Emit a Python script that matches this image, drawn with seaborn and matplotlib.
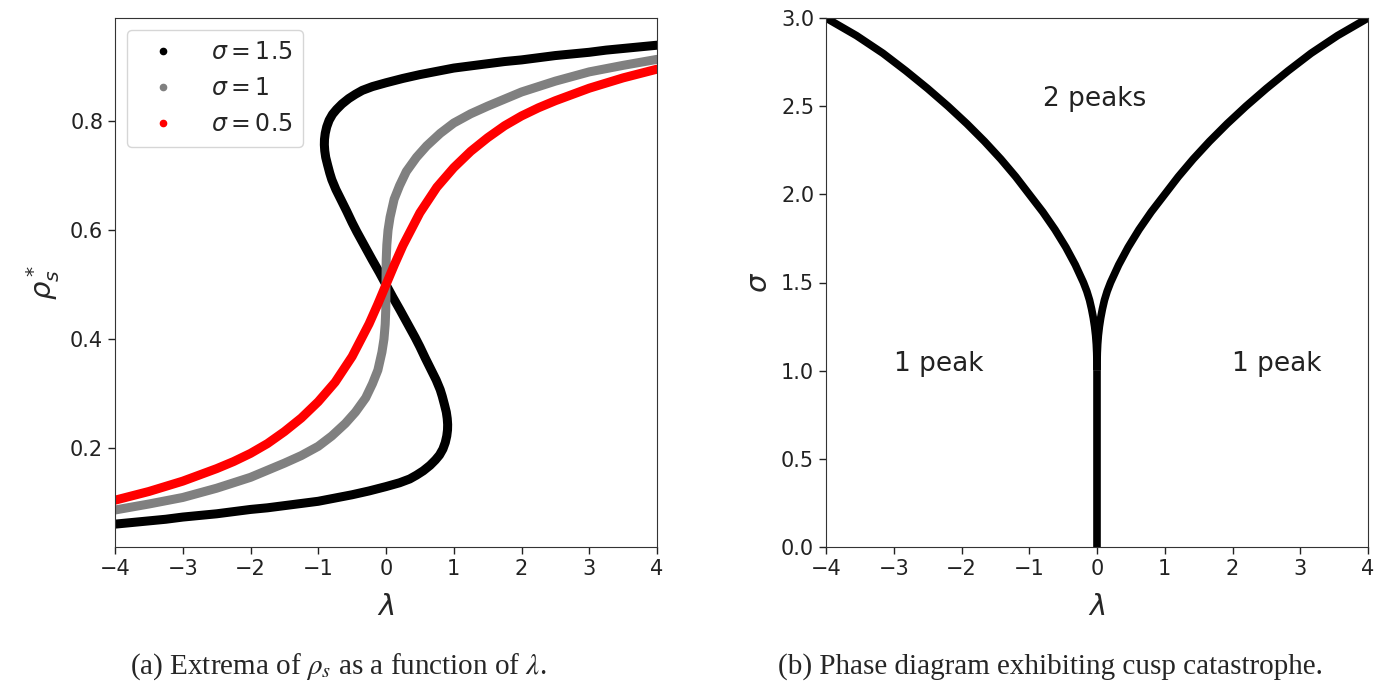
import matplotlib
matplotlib.use("Agg")
import matplotlib.pyplot as plt
import seaborn as sns
import pandas as pd
from matplotlib.lines import Line2D

# ---------------- data ----------------
# Panel (a): extrema rho_s* vs lambda, points ordered along each curve
lam_s15 = [-4.0, -3.75, -3.5, -3.25, -3.0, -2.75, -2.5, -2.25, -2.0, -1.75, -1.5, -1.25, -1.0, -0.75,
           -0.5, -0.25, 0.0, 0.2, 0.35, 0.45, 0.55, 0.65, 0.73, 0.79, 0.84, 0.875, 0.897, 0.908,
           0.910, 0.904, 0.89, 0.862, 0.83, 0.80, 0.74, 0.66, 0.58, 0.50, 0.43, 0.355, 0.28,
           0.205, 0.10, 0.0,
           -0.10, -0.205, -0.28, -0.355, -0.43, -0.50, -0.58, -0.66, -0.74, -0.80, -0.83, -0.862,
           -0.89, -0.904, -0.910, -0.908, -0.897, -0.875, -0.84, -0.79, -0.73, -0.65, -0.55, -0.45,
           -0.35, -0.2, 0.0, 0.25, 0.5, 0.75, 1.0, 1.25, 1.5, 1.75, 2.0, 2.25, 2.5, 2.75, 3.0,
           3.25, 3.5, 3.75, 4.0]
rho_s15 = [0.060, 0.063, 0.066, 0.069, 0.073, 0.076, 0.079, 0.083, 0.087, 0.090, 0.094, 0.098, 0.102, 0.108,
           0.114, 0.121, 0.129, 0.136, 0.143, 0.150, 0.158, 0.168, 0.178, 0.187, 0.198, 0.210, 0.222, 0.233,
           0.243, 0.254, 0.266, 0.280, 0.295, 0.307, 0.325, 0.345, 0.365, 0.386, 0.403, 0.420, 0.437,
           0.454, 0.477, 0.500,
           0.523, 0.546, 0.563, 0.580, 0.597, 0.614, 0.635, 0.655, 0.675, 0.693, 0.705, 0.720,
           0.734, 0.746, 0.757, 0.767, 0.778, 0.790, 0.802, 0.813, 0.822, 0.832, 0.842, 0.850,
           0.857, 0.864, 0.871, 0.879, 0.886, 0.892, 0.898, 0.902, 0.906, 0.910, 0.913, 0.917, 0.921, 0.924,
           0.927, 0.931, 0.934, 0.937, 0.940]

lam_s10 = [-4.0, -3.5, -3.0, -2.5, -2.0, -1.5, -1.25, -1.0, -0.8, -0.6, -0.45, -0.3, -0.2, -0.12,
           -0.06, -0.03, -0.012, -0.003, 0.0,
           0.003, 0.012, 0.03, 0.06, 0.12, 0.2, 0.3, 0.45, 0.6, 0.8, 1.0, 1.25, 1.5, 2.0, 2.5,
           3.0, 3.5, 4.0]
rho_s10 = [0.086, 0.097, 0.109, 0.126, 0.146, 0.172, 0.186, 0.203, 0.222, 0.245, 0.266, 0.292, 0.318, 0.343,
           0.376, 0.400, 0.427, 0.455, 0.500,
           0.545, 0.573, 0.600, 0.624, 0.657, 0.682, 0.708, 0.734, 0.755, 0.778, 0.797, 0.814, 0.828, 0.854,
           0.874, 0.891, 0.903, 0.914]

lam_s05 = [-4.0, -3.5, -3.0, -2.5, -2.25, -2.0, -1.75, -1.5, -1.25, -1.0, -0.75, -0.5, -0.25, -0.125, 0.0,
           0.125, 0.25, 0.5, 0.75, 1.0, 1.25, 1.5, 1.75, 2.0, 2.25, 2.5, 3.0, 3.5, 4.0]
rho_s05 = [0.104, 0.120, 0.139, 0.162, 0.175, 0.190, 0.208, 0.230, 0.255, 0.285, 0.321, 0.368, 0.428, 0.463, 0.500,
           0.537, 0.572, 0.632, 0.679, 0.715, 0.745, 0.770, 0.792, 0.810, 0.825, 0.838, 0.861, 0.880, 0.896]

series_labels = [r"$\sigma = 1.5$", r"$\sigma = 1$", r"$\sigma = 0.5$"]
series_colors = ["black", "gray", "red"]

# Panel (b): phase boundary (cusp)
stem_lam = [0.0, 0.0]
stem_sigma = [0.0, 1.0]
branch_sigma = [1.0, 1.05, 1.1, 1.15, 1.2, 1.25, 1.3, 1.35, 1.4, 1.45, 1.5, 1.6, 1.7, 1.8, 1.9,
                2.0, 2.1, 2.2, 2.3, 2.4, 2.5, 2.6, 2.7, 2.8, 2.9, 3.0]
branch_right_lam = [0.0, 0.001, 0.004, 0.01, 0.02, 0.035, 0.055, 0.08, 0.11, 0.15, 0.2, 0.32, 0.46, 0.62, 0.8,
                    1.0, 1.2, 1.42, 1.66, 1.92, 2.2, 2.5, 2.82, 3.16, 3.55, 4.0]
branch_left_lam = [-0.0, -0.001, -0.004, -0.01, -0.02, -0.035, -0.055, -0.08, -0.11, -0.15, -0.2, -0.32, -0.46,
                   -0.62, -0.8, -1.0, -1.2, -1.42, -1.66, -1.92, -2.2, -2.5, -2.82, -3.16, -3.55, -4.0]

# ---------------- figure ----------------
sns.set_style("ticks")
plt.rcParams["font.family"] = ["DejaVu Sans"]
plt.rcParams["axes.edgecolor"] = "#333333"
plt.rcParams["xtick.color"] = "#222222"
plt.rcParams["ytick.color"] = "#222222"

fig = plt.figure(figsize=(13.93, 6.85), dpi=100)
W, H = 1393, 685
axL = fig.add_axes([115 / W, (H - 547) / H, 542 / W, 529 / H])
axR = fig.add_axes([826 / W, (H - 547) / H, 542 / W, 529 / H])

frames = []
for lab, lam, rho in zip(series_labels, [lam_s15, lam_s10, lam_s05], [rho_s15, rho_s10, rho_s05]):
    frames.append(pd.DataFrame({"lam": lam, "rho": rho, "series": lab}))
dfa = pd.concat(frames, ignore_index=True)

for lab, col in zip(series_labels, series_colors):
    sub = dfa[dfa["series"] == lab]
    sns.lineplot(data=sub, x="lam", y="rho", sort=False, estimator=None, color=col,
                 linewidth=6.5, solid_capstyle="round", solid_joinstyle="round", ax=axL, legend=False)

axL.set_xlim(-4, 4)
axL.set_ylim(0.018, 0.99)
axL.set_xticks([-4, -3, -2, -1, 0, 1, 2, 3, 4])
axL.set_yticks([0.2, 0.4, 0.6, 0.8])
axL.set_xlabel(r"$\lambda$", fontsize=21, labelpad=10)
axL.set_ylabel(r"$\rho_s^*$", fontsize=21, labelpad=6)
axL.tick_params(labelsize=15, length=5, width=1)

handles = [Line2D([], [], linestyle="none", marker="o", markersize=4.5, color=c) for c in series_colors]
leg = axL.legend(handles, series_labels, loc="upper left", fontsize=17, frameon=True,
                 borderpad=0.45, labelspacing=0.5, handlelength=2.2, handletextpad=0.9,
                 borderaxespad=0.5)
leg.get_frame().set_edgecolor("#cccccc")

dfb_stem = pd.DataFrame({"lam": stem_lam, "sigma": stem_sigma})
dfb_l = pd.DataFrame({"lam": branch_left_lam, "sigma": branch_sigma})
dfb_r = pd.DataFrame({"lam": branch_right_lam, "sigma": branch_sigma})
for d in [dfb_stem, dfb_l, dfb_r]:
    sns.lineplot(data=d, x="lam", y="sigma", sort=False, estimator=None, color="black",
                 linewidth=5.5, solid_capstyle="butt", solid_joinstyle="round", ax=axR, legend=False)

axR.set_xlim(-4, 4)
axR.set_ylim(0, 3)
axR.set_xticks([-4, -3, -2, -1, 0, 1, 2, 3, 4])
axR.set_yticks([0.0, 0.5, 1.0, 1.5, 2.0, 2.5, 3.0])
axR.set_xlabel(r"$\lambda$", fontsize=21, labelpad=10)
axR.set_ylabel(r"$\sigma$", fontsize=21, labelpad=6)
axR.tick_params(labelsize=15, length=5, width=1)

axR.text(-0.8, 2.5, "2 peaks", fontsize=19, color="#222222")
axR.text(-3.0, 1.0, "1 peak", fontsize=19, color="#222222")
axR.text(2.0, 1.0, "1 peak", fontsize=19, color="#222222")

fig.text(338 / W, 1 - 667 / H, r"(a) Extrema of $\rho_s$ as a function of $\lambda$.",
         ha="center", va="center", fontsize=21, family=["Liberation Serif"], math_fontfamily="stix")
fig.text(1050 / W, 1 - 667 / H, "(b) Phase diagram exhibiting cusp catastrophe.",
         ha="center", va="center", fontsize=21, family=["Liberation Serif"])

fig.savefig("out.png", dpi=100)
